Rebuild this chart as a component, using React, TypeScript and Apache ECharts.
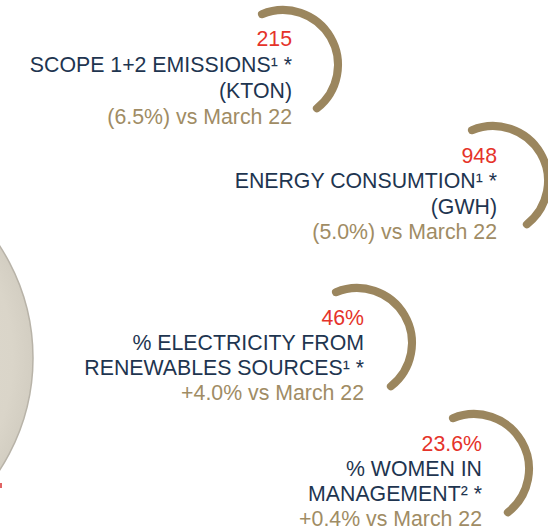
import React, { useEffect, useRef } from "react";
import * as echarts from "echarts";

// KPI data
const kpiValues = ["215", "948", "46%", "23.6%"];
const kpiLabels = [
  ["SCOPE 1+2 EMISSIONS¹ *", "(KTON)"],
  ["ENERGY CONSUMTION¹ *", "(GWH)"],
  ["% ELECTRICITY FROM", "RENEWABLES SOURCES¹ *"],
  ["% WOMEN IN", "MANAGEMENT² *"],
];
const kpiChanges = [
  "(6.5%) vs March 22",
  "(5.0%) vs March 22",
  "+4.0% vs March 22",
  "+0.4% vs March 22",
];

// layout (arc centres, text right edges, first baselines, line steps)
const arcCenters = [
  [283, 65],
  [493, 181],
  [357, 343],
  [474, 469],
];
const textRight = [292, 497, 364, 482];
const firstBaseline = [46, 163, 325, 451.5];
const lineStep = [26, 25.6, 25, 25];

const RED = "#E5332A";
const NAVY = "#1E3550";
const GOLD = "#A08C64";
const ARC = "#9B865E";
const FONT = "'Liberation Sans', Arial, sans-serif";
const FS = 21.3;

export default function App() {
  const ref = useRef<HTMLDivElement>(null);
  useEffect(() => {
    document.body.style.margin = "0";
    const chart = echarts.init(ref.current!, null, { renderer: "svg" });
    const elements: any[] = [];
    // big beige circle at left
    elements.push({
      type: "circle",
      shape: { cx: -172, cy: 358, r: 205 },
      style: {
        fill: new echarts.graphic.RadialGradient(0.5, 0.5, 0.5, [
          { offset: 0, color: "#E4E0D7" },
          { offset: 0.9, color: "#DAD5C9" },
          { offset: 1, color: "#D3CEC2" },
        ]),
        stroke: "#B8B3A8",
        lineWidth: 1.5,
      },
    });
    elements.push({
      type: "rect",
      shape: { x: 0, y: 483, width: 2, height: 5 },
      style: { fill: "#E06464" },
    });
    const a0 = (-112.5 * Math.PI) / 180;
    const a1 = (52 * Math.PI) / 180;
    kpiValues.forEach((v, i) => {
      const [cx, cy] = arcCenters[i];
      elements.push({
        type: "arc",
        shape: { cx, cy, r: 55, startAngle: a0, endAngle: a1, clockwise: true },
        style: { stroke: ARC, lineWidth: 8, fill: null, lineCap: "round" },
      });
      const lines = [
        { t: v, c: RED },
        { t: kpiLabels[i][0], c: NAVY },
        { t: kpiLabels[i][1], c: NAVY },
        { t: kpiChanges[i], c: GOLD },
      ];
      lines.forEach((ln, j) => {
        const base = firstBaseline[i] + j * lineStep[i];
        elements.push({
          type: "text",
          x: textRight[i],
          y: base - 7.5,
          style: {
            text: ln.t,
            fill: ln.c,
            fontFamily: FONT,
            fontSize: FS,
            align: "right",
            verticalAlign: "middle",
          },
        });
      });
    });
    chart.setOption({
      animation: false,
      backgroundColor: "#FFFFFF",
      graphic: { elements },
    });
    return () => chart.dispose();
  }, []);
  return <div ref={ref} style={{ width: 548, height: 529 }} />;
}
